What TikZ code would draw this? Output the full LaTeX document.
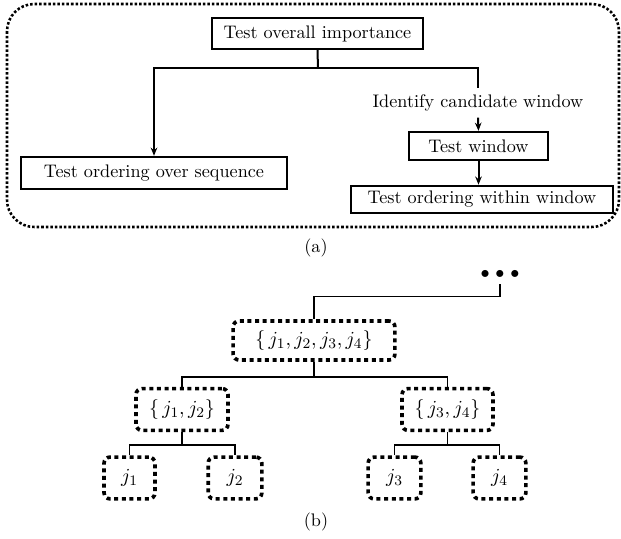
\documentclass[tikz,border=0pt]{standalone}
\usetikzlibrary{arrows.meta}

\tikzset{
  testbox/.style={draw,line width=1.3pt,inner sep=0pt},
  setbox/.style={draw,line width=2pt,dash pattern=on 2.2pt off 2pt,rounded corners=3.3pt,
    inner sep=0pt,minimum height=23pt,font=\fontsize{11}{13}\selectfont},
  flow/.style={line width=1.1pt,-{Stealth[length=4.5pt,width=3.6pt]}},
  branch/.style={line width=1.1pt},
  link/.style={line width=0.8pt},
}

\begin{document}
\begin{tikzpicture}[x=0.55pt,y=-0.55pt]
\useasboundingbox (0,0) rectangle (621,539);

% (a) the tests, top to bottom
\draw[line width=1.4pt,dash pattern=on 1.4pt off 1.1pt,rounded corners=15pt] (7,4) rectangle (619,227);
\node[testbox,minimum width=116pt,minimum height=17pt] (overall) at (317.5,33.5) {Test overall importance};
\node[testbox,minimum width=146pt,minimum height=17.6pt] (seq) at (154,173) {Test ordering over sequence};
\node (cand) at (478,103) {Identify candidate window};
\node[testbox,minimum width=76.5pt,minimum height=15.4pt] (win) at (478.5,146) {Test window};
\node[testbox,minimum width=144pt,minimum height=15pt] (within) at (482,199.5) {Test ordering within window};
\node (capa) at (316,248) {(a)};

\coordinate (split) at (318,68);
\draw[branch] (overall.south) -- (split);
\draw[flow] (split) -| (seq.north);
\draw[branch] (split) -| (cand.north);
\draw[flow] (cand.south) -- (win.north);
\draw[flow] (win.south) -- (win.south |- within.north);

% (b) the set tree
\node (more) at (500,274) {$\bullet$\hspace{3.2pt}$\bullet$\hspace{3.2pt}$\bullet$};
\node[setbox,minimum width=89pt,minimum height=21.5pt] (j1234) at (314,340.5) {$\{\,j_1,j_2,j_3,j_4\}$};
\node[setbox,minimum width=50.6pt] (j12) at (182,409.5) {$\{\,j_1,j_2\}$};
\node[setbox,minimum width=50pt] (j34) at (447.5,409.5) {$\{\,j_3,j_4\}$};
\node[setbox,minimum width=28pt] (j1) at (129.5,478) {$j_1$};
\node[setbox,minimum width=29.5pt] (j2) at (235,478) {$j_2$};
\node[setbox,minimum width=29pt] (j3) at (394.5,478) {$j_3$};
\node[setbox,minimum width=29pt] (j4) at (499.5,478) {$j_4$};
\node (capb) at (316,522) {(b)};

\draw[link] (more.south) -- ++(0,12) -| (j1234.north);
\draw[link] (j1234.south) -- ++(0,15) coordinate (fork);
\draw[link] (fork) -| (j12.north);
\draw[link] (fork) -| (j34.north);
\draw[link] (j12.south) -- ++(0,13) coordinate (forkl);
\draw[link] (forkl) -| (j1.north);
\draw[link] (forkl) -| (j2.north);
\draw[link] (j34.south) -- ++(0,13) coordinate (forkr);
\draw[link] (forkr) -| (j3.north);
\draw[link] (forkr) -| (j4.north);
\end{tikzpicture}
\end{document}
